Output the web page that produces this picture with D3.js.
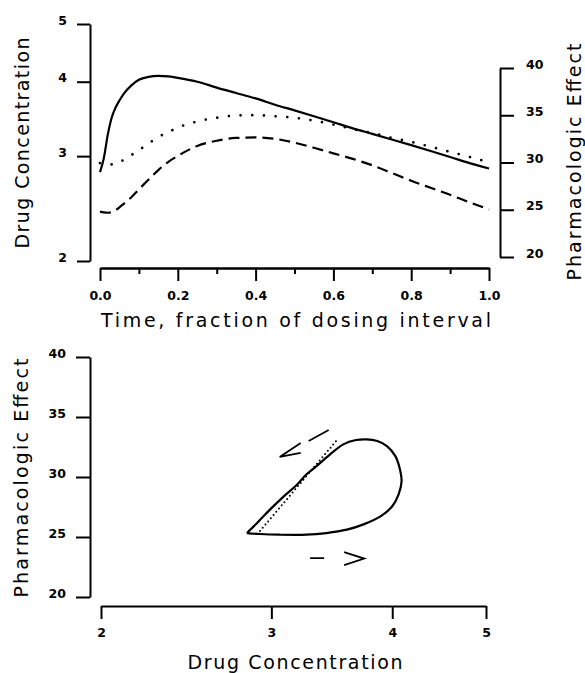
<!DOCTYPE html>
<html>
<head>
<meta charset="utf-8">
<script src="https://cdn.jsdelivr.net/npm/d3@7/dist/d3.min.js"></script>
<style>
body { margin: 0; background: #fff; }
.tick text { font-family: "DejaVu Sans", sans-serif; font-weight: bold; font-size: 12.5px; fill: #000; }
.title { font-family: "DejaVu Sans", sans-serif; font-size: 19px; fill: #000; }
</style>
</head>
<body>
<svg id="chart" width="585" height="673"></svg>
<script>

// ---- top panel: time course over one dosing interval ----
const time = [0, 0.01, 0.02, 0.03, 0.04, 0.05, 0.06, 0.08, 0.1, 0.125, 0.15, 0.175, 0.2, 0.25, 0.3,
	0.35, 0.4, 0.45, 0.5, 0.55, 0.6, 0.65, 0.7, 0.75, 0.8, 0.85, 0.9, 0.95, 1.0]
// plasma drug concentration (solid, left log axis)
const conc = [2.82, 2.98, 3.26, 3.48, 3.62, 3.72, 3.81, 3.94, 4.03, 4.075, 4.09, 4.085, 4.06, 4.00, 3.91,
	3.83, 3.75, 3.66, 3.58, 3.50, 3.42, 3.34, 3.27, 3.20, 3.13, 3.06, 2.99, 2.92, 2.86]
// effect-site concentration (dotted, left log axis)
const conc_effect_site = [2.92, 2.915, 2.91, 2.905, 2.91, 2.93, 2.955, 3.01, 3.07, 3.15, 3.23, 3.29, 3.35, 3.43, 3.48,
	3.51, 3.515, 3.50, 3.48, 3.44, 3.39, 3.33, 3.28, 3.22, 3.17, 3.11, 3.05, 2.99, 2.93]
// pharmacologic effect (dashed, right axis)
const effect = [24.8, 24.72, 24.68, 24.75, 24.95, 25.25, 25.6, 26.3, 27.15, 28.2, 29.2, 30.05, 30.7, 31.75, 32.3,
	32.6, 32.65, 32.5, 32.1, 31.56, 30.97, 30.38, 29.7, 28.9, 28.07, 27.32, 26.58, 25.78, 25.04]

// ---- bottom panel: effect vs concentration ----
// hysteresis loop, read counter-clockwise from the lower-left corner
const loop_conc = [2.83, 2.92, 3.06, 3.26, 3.42, 3.59, 3.73, 3.89, 4.00, 4.06, 4.09, 4.07, 4.03,
	3.95, 3.86, 3.76, 3.67, 3.56, 3.45, 3.34, 3.26, 3.19, 3.09, 2.99, 2.90]
const loop_effect = [25.33, 25.25, 25.19, 25.19, 25.33, 25.61, 26.03, 26.72, 27.56, 28.54, 29.65, 30.77, 31.74,
	32.58, 33.0, 33.14, 33.08, 32.72, 31.88, 30.9, 30.21, 29.37, 28.39, 27.28, 26.17]
// equilibrium relation (dotted)
const equil_conc = [2.92, 3.50]
const equil_effect = [25.5, 33.0]

const time_ticks = [0, 0.2, 0.4, 0.6, 0.8, 1.0]
const time_minor = [0.1, 0.3, 0.5, 0.7, 0.9]
const conc_ticks = [2, 3, 4, 5]
const effect_ticks = [20, 25, 30, 35, 40]

const svg = d3.select('#chart')

function style_axis(g) {
	g.select('.domain').attr('stroke', '#000').attr('stroke-width', 2)
	g.selectAll('.tick line').attr('stroke', '#000').attr('stroke-width', 2)
}

function add_title(txt, x, y, len, rotate) {
	svg.append('text')
		.attr('class', 'title')
		.attr('text-anchor', 'middle')
		.attr('transform', 'translate(' + x + ',' + y + ')' + (rotate ? ' rotate(-90)' : ''))
		.attr('textLength', len)
		.attr('lengthAdjust', 'spacing')
		.text(txt)
}

// ---------- top panel ----------
const x_time = d3.scaleLinear().domain([0, 1]).range([100, 489])
const y_conc = d3.scaleLog().domain([2, 5]).range([261, 24])
const y_eff = d3.scaleLinear().domain([20, 40]).range([257, 68])

svg.append('g')
	.attr('transform', 'translate(90,0)')
	.call(d3.axisLeft(y_conc).tickValues(conc_ticks).tickFormat(d3.format('d'))
		.tickSize(13).tickSizeOuter(0).tickPadding(10))
	.call(style_axis)
	.selectAll('text').attr('dy', '0')

svg.append('g')
	.attr('transform', 'translate(500,0)')
	.call(d3.axisRight(y_eff).tickValues(effect_ticks)
		.tickSize(14).tickSizeOuter(0).tickPadding(12))
	.call(style_axis)
	.selectAll('text').attr('dy', '0')

svg.append('g')
	.attr('transform', 'translate(0,268)')
	.call(d3.axisBottom(x_time).tickValues(time_minor).tickFormat('')
		.tickSize(6).tickSizeOuter(0))
	.call(style_axis)

svg.append('g')
	.attr('transform', 'translate(0,268)')
	.call(d3.axisBottom(x_time).tickValues(time_ticks).tickFormat(d3.format('.1f'))
		.tickSize(13).tickSizeOuter(0).tickPadding(10))
	.call(style_axis)

const idx = d3.range(time.length)

svg.append('path')
	.datum(idx)
	.attr('fill', 'none').attr('stroke', '#000').attr('stroke-width', 2.2)
	.attr('d', d3.line().x(i => x_time(time[i])).y(i => y_conc(conc[i])).curve(d3.curveMonotoneX))

svg.append('path')
	.datum(idx)
	.attr('fill', 'none').attr('stroke', '#000').attr('stroke-width', 2.7)
	.attr('stroke-linecap', 'round').attr('stroke-dasharray', '0,11.7')
	.attr('d', d3.line().x(i => x_time(time[i])).y(i => y_conc(conc_effect_site[i])).curve(d3.curveMonotoneX))

svg.append('path')
	.datum(idx)
	.attr('fill', 'none').attr('stroke', '#000').attr('stroke-width', 2.2)
	.attr('stroke-dasharray', '11,6')
	.attr('d', d3.line().x(i => x_time(time[i])).y(i => y_eff(effect[i])).curve(d3.curveMonotoneX))

add_title('Drug Concentration', 29, 143, 211, true)
add_title('Pharmacologic Effect', 581, 162, 237, true)
add_title('Time, fraction of dosing interval', 296, 327, 390, false)

// ---------- bottom panel ----------
const x_bc = d3.scaleLog().domain([2, 5]).range([101, 486])
const y_be = d3.scaleLinear().domain([20, 40]).range([597, 357])

svg.append('g')
	.attr('transform', 'translate(90,0)')
	.call(d3.axisLeft(y_be).tickValues(effect_ticks)
		.tickSize(14).tickSizeOuter(0).tickPadding(10))
	.call(style_axis)
	.selectAll('text').attr('dy', '0')

svg.append('g')
	.attr('transform', 'translate(0,606)')
	.call(d3.axisBottom(x_bc).tickValues(conc_ticks).tickFormat(d3.format('d'))
		.tickSize(13).tickSizeOuter(0).tickPadding(9))
	.call(style_axis)

// loop, closed back to its first point
const lidx = d3.range(loop_conc.length)
svg.append('path')
	.datum(lidx.concat([0]))
	.attr('fill', 'none').attr('stroke', '#000').attr('stroke-width', 2.2)
	.attr('stroke-linejoin', 'miter')
	.attr('d', d3.line().x(i => x_bc(loop_conc[i])).y(i => y_be(loop_effect[i])).curve(d3.curveCatmullRom.alpha(0.5)))

svg.append('path')
	.datum(d3.range(equil_conc.length))
	.attr('fill', 'none').attr('stroke', '#000').attr('stroke-width', 2)
	.attr('stroke-linecap', 'round').attr('stroke-dasharray', '0,4.2')
	.attr('d', d3.line().x(i => x_bc(equil_conc[i])).y(i => y_be(equil_effect[i])))

// direction arrows
const tip = [x_bc(3.06), y_be(31.67)]
const st = [x_bc(3.29), y_be(23.24)]
function p(a, dx, dy) { return (a[0] + dx) + ',' + (a[1] + dy) }
svg.append('path')
	.attr('fill', 'none').attr('stroke', '#000').attr('stroke-width', 1.8)
	.attr('d', 'M' + p(tip, 21, -14) + 'L' + p(tip, 0, 0) + 'L' + p(tip, 21, -4) +
		'M' + p(tip, 29, -16) + 'L' + p(tip, 49, -27))
svg.append('path')
	.attr('fill', 'none').attr('stroke', '#000').attr('stroke-width', 1.8)
	.attr('d', 'M' + p(st, 0, 0) + 'L' + p(st, 14, 0) +
		'M' + p(st, 34, -6) + 'L' + p(st, 54, 0.5) + 'L' + p(st, 34, 7))

add_title('Pharmacologic Effect', 28, 478, 239, true)
add_title('Drug Concentration', 295, 669, 215, false)

</script>
</body>
</html>
